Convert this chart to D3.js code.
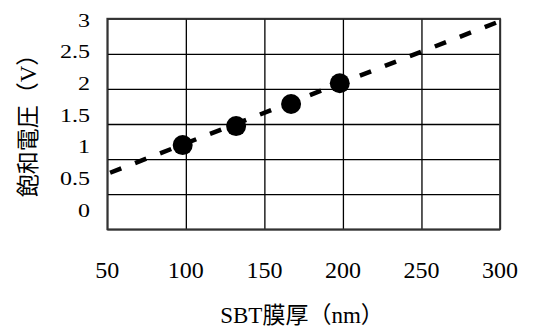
<!DOCTYPE html>
<html>
<head>
<meta charset="utf-8">
<script src="https://cdn.jsdelivr.net/npm/d3@7"></script>
<style>
  html, body { margin: 0; padding: 0; background: #fff; }
  svg { display: block; }
  text { font-family: "Liberation Serif", "Noto Sans CJK JP", serif; fill: #000; }
</style>
</head>
<body>
<div id="chart"></div>
<script>
// measured points (SBT film thickness nm, saturation voltage V)
const thickness = [98, 132, 167, 198]
const voltage = [1.20, 1.47, 1.785, 2.08]

// dashed trend line, ends
const trendThickness = [50, 300]
const trendVoltage = [0.79, 2.965]

const xTicks = [50, 100, 150, 200, 250, 300]
const yTicks = [0, 0.5, 1, 1.5, 2, 2.5, 3]

const xTitle = "SBT膜厚（nm）"
const yTitle = "飽和電圧（V）"

const width = 536
const height = 333
const margin = {top: 18.7, right: 36, bottom: 103.7, left: 107.3}

const svg = d3.select("#chart").append("svg")
  .attr("width", width)
  .attr("height", height)

const x = d3.scaleLinear()
  .domain([50, 300])
  .range([margin.left, width - margin.right])

const y = d3.scaleLinear()
  .domain([0, 3])
  .range([height - margin.bottom, margin.top])

// tick labels on the left sit on a slightly squeezed scale in the original
const yLabel = d3.scaleLinear()
  .domain([0, 3])
  .range([210, 20])

// grid
svg.append("g")
  .attr("transform", `translate(0, ${height - margin.bottom})`)
  .call(d3.axisBottom(x)
    .tickValues(xTicks)
    .tickSize(-(height - margin.top - margin.bottom))
    .tickFormat(""))
  .call(g => g.select(".domain").remove())
  .call(g => g.selectAll(".tick line").attr("stroke", "#000").attr("stroke-width", 1.3))

svg.append("g")
  .attr("transform", `translate(${margin.left}, 0)`)
  .call(d3.axisLeft(y)
    .tickValues(yTicks)
    .tickSize(-(width - margin.left - margin.right))
    .tickFormat(""))
  .call(g => g.select(".domain").remove())
  .call(g => g.selectAll(".tick line").attr("stroke", "#000").attr("stroke-width", 1.3))

svg.append("rect")
  .attr("x", margin.left)
  .attr("y", margin.top)
  .attr("width", width - margin.left - margin.right)
  .attr("height", height - margin.top - margin.bottom)
  .attr("fill", "none")
  .attr("stroke", "#333")
  .attr("stroke-width", 1.8)

// trend line
const trend = trendThickness.map((t, i) => ({t, v: trendVoltage[i]}))
svg.append("path")
  .datum(trend)
  .attr("fill", "none")
  .attr("stroke", "#000")
  .attr("stroke-width", 4.5)
  .attr("stroke-dasharray", "12 14.8")
  .attr("stroke-dashoffset", 23.8)
  .attr("d", d3.line().x(d => x(d.t)).y(d => y(d.v)))

// points
svg.append("g")
  .selectAll("circle")
  .data(thickness.map((t, i) => ({t, v: voltage[i]})))
  .join("circle")
  .attr("cx", d => x(d.t))
  .attr("cy", d => y(d.v))
  .attr("r", 10)
  .attr("fill", "#000")

// x tick labels
svg.append("g")
  .selectAll("text")
  .data(xTicks)
  .join("text")
  .attr("x", d => x(d))
  .attr("y", 278)
  .attr("text-anchor", "middle")
  .style("font-size", "24px")
  .text(d => d)

// y tick labels
svg.append("g")
  .selectAll("text")
  .data(yTicks)
  .join("text")
  .attr("transform", d => `translate(90, ${yLabel(d) + 6.6}) scale(1, 0.82)`)
  .attr("text-anchor", "end")
  .style("font-size", "24px")
  .text(d => d)

// axis titles
svg.append("text")
  .attr("x", 302)
  .attr("y", 323)
  .attr("text-anchor", "middle")
  .style("font-size", "23px")
  .text(xTitle)

svg.append("text")
  .attr("transform", "translate(28, 120) rotate(-90)")
  .attr("text-anchor", "middle")
  .attr("dominant-baseline", "central")
  .style("font-size", "23px")
  .text(yTitle)
</script>
</body>
</html>
